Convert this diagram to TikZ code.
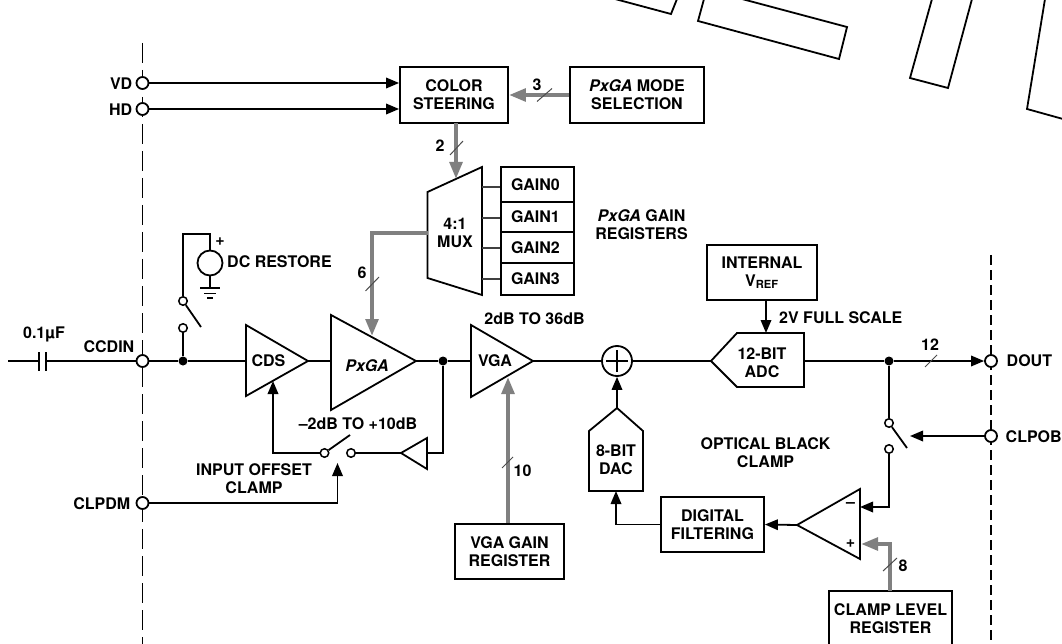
\documentclass[tikz,border=0pt]{standalone}
\usepackage{fontspec}
\setmainfont{TeX Gyre Heros}
\usetikzlibrary{arrows.meta,calc}
\definecolor{busgray}{gray}{0.5}
\tikzset{
  wire/.style={draw=black,line width=1.8pt,line join=miter},
  sig/.style={wire,-{Triangle[length=13pt,width=10.5pt]}},
  bus/.style={draw=busgray,line width=4pt},
  busarrow/.style={draw=busgray,line width=4pt,-{Triangle[length=17pt,width=12.5pt,fill=busgray]}},
  slash/.style={draw=black!70,line width=1pt},
  block/.style={draw=black,line width=1.8pt,fill=white},
  box/.style={draw=black,line width=1.8pt,fill=white,inner sep=0pt,align=center,font=\lab},
  lab/.style={inner sep=0pt,align=center,font=\lab},
  pin/.style={circle,draw=black,line width=1.8pt,fill=white,minimum size=12pt,inner sep=0pt},
  sw/.style={circle,draw=black,line width=1.5pt,fill=white,minimum size=8.5pt,inner sep=0pt},
  junction/.style={circle,fill=black,minimum size=9pt,inner sep=0pt},
  dashdiv/.style={draw=black,line width=1.7pt,dash pattern=on 20pt off 7pt},
  dashdivr/.style={draw=black,line width=1.3pt,dash pattern=on 10pt off 5pt},
  extra/.style={draw=black,line width=1.8pt}
}
\newcommand{\lab}{\fontsize{16pt}{18pt}\selectfont\bfseries}
\begin{document}
\begin{tikzpicture}[x=1pt,y=-1pt]
\useasboundingbox (0,0) rectangle (1062,644);
% cut-off outlines at the top
\draw[extra] (615,-1) -- (671,14) -- (677,-1);
\draw[extra] (704,-1) -- (698,21) -- (839,59) -- (847,27) -- (742,-1);
\draw[extra] (932,-1) -- (910,78) -- (948,88) -- (972,-1);
\draw[extra] (1045,-1) -- (1027,109) -- (1063,119);
% dashed dividers
\coordinate (dl0) at (142.5,43); \coordinate (dl1) at (142.5,644);
\coordinate (dr0) at (991,255); \coordinate (dr1) at (991,644);
\draw[dashdiv] (dl0) -- (dl1);
\draw[dashdivr] (dr0) -- (dr1);
% pins
\node[pin] (vd) at (142.5,83) {};
\node[pin] (hd) at (142.5,109) {};
\node[pin] (ccdin) at (142.5,361) {};
\node[pin] (clpdm) at (142.5,503) {};
\node[pin] (dout) at (991,361) {};
\node[pin] (clpob) at (991,436) {};
\node[lab,anchor=east] (lvd) at (132.5,84) {VD};
\node[lab,anchor=east] (lhd) at (132.5,110) {HD};
\node[lab,anchor=east] (lccd) at (134.5,346.5) {CCDIN};
\node[lab,anchor=east] (lclp) at (130.5,503.5) {CLPDM};
\node[lab,anchor=west] (ldout) at (1006.5,361) {DOUT};
\node[lab,anchor=west] (lclpob) at (1005.5,436.5) {CLPOB};
% boxes
\node[box,minimum width=108pt,minimum height=56pt] (color) at (454,95) {COLOR\\STEERING};
\node[box,minimum width=133.5pt,minimum height=56pt] (mode) at (637,95) {\textit{PxGA} MODE\\SELECTION};
\node[box,minimum width=73.5pt,minimum height=34.7pt] (g0) at (537.5,184.4) {\raisebox{-4pt}{GAIN0\kern4pt}};
\node[box,minimum width=73.5pt,minimum height=30.3pt] (g1) at (537.5,217) {\raisebox{-1.5pt}{GAIN1\kern4pt}};
\node[box,minimum width=73.5pt,minimum height=30.7pt] (g2) at (537.5,247.4) {GAIN2\kern4pt};
\node[box,minimum width=73.5pt,minimum height=32.3pt] (g3) at (537.5,278.9) {GAIN3\kern4pt};
\node[lab] (lgain) at (641.5,225) {\textit{PxGA} GAIN\\REGISTERS};
\node[box,minimum width=110pt,minimum height=55.5pt] (vref) at (762,272.5) {INTERNAL\\V\textsubscript{REF}};
\node[box,minimum width=109pt,minimum height=55.5pt] (vgareg) at (509.5,551.5) {VGA GAIN\\REGISTER};
\node[box,minimum width=103pt,minimum height=55.5pt] (filter) at (712.5,524.5) {DIGITAL\\FILTERING};
\node[box,minimum width=123pt,minimum height=56pt] (clampreg) at (890.5,619) {CLAMP LEVEL\\REGISTER};
% mux
\coordinate (mA) at (427.5,192); \coordinate (mB) at (482,167); \coordinate (mC) at (482,295); \coordinate (mD) at (427.5,278);
\draw[block] (mA) -- (mB) -- (mC) -- (mD) -- cycle;
\node[lab] (mux) at (455,233) {4:1\\MUX};
\foreach \g/\yy in {g0/187,g1/218,g2/248,g3/279}{
  \coordinate (m\g) at (482,\yy);
  \draw[draw=black!75,line width=1.6pt] (m\g) -- (m\g -| \g.west);
}
% triangles
\draw[block] (246,325) coordinate (cdsA) -- (246,396) -- (308,361) coordinate (cdsO) -- cycle;
\coordinate (cdsI) at (246,361);
\node[lab] (cds) at (268.5,361) {CDS};
\draw[block] (331,315) -- (331,410) -- (416,361) coordinate (pxO) -- cycle;
\coordinate (pxI) at (331,361);
\node[lab] (pxga) at (367,366) {\textit{PxGA}};
\draw[block] (471,325) -- (471,397) -- (533,361) coordinate (vgaO) -- cycle;
\coordinate (vgaI) at (471,361);
\node[lab] (vga) at (495,361) {VGA};
% sum
\node[circle,draw=black,line width=1.8pt,minimum size=30pt,inner sep=0pt] (sum) at (617,361) {};
\draw[wire,line width=1.5pt] ($(sum.west)+(5,0)$) -- ($(sum.east)+(-5,0)$);
\draw[wire,line width=1.5pt] ($(sum.north)+(0,5)$) -- ($(sum.south)+(0,-5)$);
% adc
\draw[block] (711,361) coordinate (adcI) -- (737,333) -- (804,333) -- (804,387) -- (737,387) -- cycle;
\coordinate (adcO) at (804,361);
\coordinate (adcT) at (766,333);
\node[lab] (adc) at (762,362.5) {12-BIT\\ADC};
% dac
\draw[block] (617,408) coordinate (dacO) -- (643,431) -- (643,491) -- (589,491) -- (589,431) -- cycle;
\coordinate (dacI) at (616,491);
\node[lab] (dac) at (616,459.5) {8-BIT\\DAC};
% comparator
\draw[block] (860,489) -- (860,559) -- (797,525) coordinate (cmpO) -- cycle;
\coordinate (cmpM) at (860,507); \coordinate (cmpP) at (860,544);
\node[lab] (cmpminus) at (850.5,505) {–};
\node[lab] (cmpplus) at (850.5,544) {+};
% main wires
\coordinate (inL) at (8,361);
\node[junction] (j1) at (183,361) {};
\node[junction] (j2) at (443,361) {};
\node[junction] (j3) at (889,361) {};
\coordinate (capL) at (39,361); \coordinate (capR) at (46,361);
\draw[wire] (inL) -- (capL);
\draw[wire] (capL |- 0,352) -- (capL |- 0,371);
\draw[wire] (capR |- 0,352) -- (capR |- 0,371);
\draw[wire] (capR) -- (ccdin);
\draw[wire] (ccdin) -- (j1);
\draw[wire] (j1) -- (cdsI);
\draw[wire] (cdsO) -- (pxI);
\draw[wire] (pxO) -- (j2);
\draw[wire] (j2) -- (vgaI);
\draw[wire] (vgaO) -- (sum);
\draw[wire] (sum) -- (adcI);
\draw[wire] (adcO) -- (j3);
\draw[sig] (j3) -- (dout);
\draw[sig] (vd) -- (vd -| color.west);
\draw[sig] (hd) -- (hd -| color.west);
\node[lab] (l01) at (44,334.5) {0.1µF};
% DC restore
\node[sw] (s1a) at (183,301) {};
\node[sw] (s1b) at (183,328) {};
\draw[wire] (j1) -- (s1b);
\coordinate (s1t) at (201,327);
\draw[wire] (s1a) -- (s1t);
\node[circle,draw=black,line width=1.8pt,minimum size=25pt,inner sep=0pt] (src) at (210,263) {};
\coordinate (gnd) at (210,288);
\draw[wire] (s1a) -- (183,234) -- (210,234) -- (src);
\draw[wire] (src) -- (gnd);
\draw[wire] ($(gnd)+(-10,0)$) -- ($(gnd)+(10,0)$);
\draw[wire] ($(gnd)+(-6,5.5)$) -- ($(gnd)+(6,5.5)$);
\draw[wire] ($(gnd)+(-3,10)$) -- ($(gnd)+(3,10)$);
\node[lab] (lplus) at (220,242) {+};
\node[lab,anchor=west] (ldc) at (227,262) {DC RESTORE};
% offset clamp
\node[sw] (s2a) at (324.5,453) {};
\node[sw] (s2b) at (351,453) {};
\coordinate (s2t) at (350,435);
\draw[wire] (s2a) -- (s2t);
\coordinate (cdsC) at (273,381);
\draw[sig] (s2a) -- (cdsC |- s2a) -- (cdsC);
\draw[block] (401,453) coordinate (bufO) -- (427,438) -- (427,469) -- cycle;
\coordinate (bufI) at (427,453);
\draw[wire] (s2b) -- (bufO);
\draw[wire] (bufI) -- (j2 |- bufI) -- (j2);
\coordinate (s2c) at (337.5,463);
\draw[sig] (clpdm) -- (s2c |- clpdm) -- (s2c);
\node[lab] (l2db) at (358,423.5) {–2dB TO +10dB};
\node[lab] (lioc) at (254,478.5) {INPUT OFFSET\\CLAMP};
\node[lab] (l36) at (534.5,318.5) {2dB TO 36dB};
% buses
\coordinate (colorB) at (456,123); \coordinate (muxT) at (456,179);
\draw[busarrow] (mode.west) -- (color.east);
\draw[busarrow] (colorB) -- (muxT);
\coordinate (muxL) at (427.5,233);
\coordinate (pxT) at (372,336);
\draw[busarrow] (muxL) -- (pxT |- muxL) -- (pxT);
\coordinate (vgaC) at (508,377);
\draw[busarrow] (vgaC |- vgareg.north) -- (vgaC);
\coordinate (clampT) at (890,591);
\coordinate (cmpPt) at (861,544);
\draw[busarrow] (clampT) -- (clampT |- cmpPt) -- (cmpPt);
\draw[slash] (537,101.5) -- (552,88.5);
\draw[slash] (450,155) -- (463,141);
\draw[slash] (365.5,291) -- (379,277);
\draw[slash] (502,468) -- (513,457);
\draw[slash] (883,571) -- (897,558);
\draw[slash] (925,367) -- (937,355);
\node[lab] (n3) at (537,85) {3};
\node[lab] (n2) at (440,146) {2};
\node[lab] (n6) at (362,272.5) {6};
\node[lab] (n10) at (522.5,470.5) {10};
\node[lab] (n8) at (903,566) {8};
\node[lab] (n12) at (930,345) {12};
% other signal wires
\draw[sig] (vref.south -| adcT) -- (adcT);
\node[lab,anchor=west] (l2v) at (779,317.5) {2V FULL SCALE};
\draw[sig] (dacO) -- (sum);
\draw[sig] (filter.west) -- (dacI |- filter.west) -- (dacI);
\draw[sig] (cmpO) -- (filter.east);
% optical black clamp
\node[sw] (s3a) at (889,423) {};
\node[sw] (s3b) at (889,449) {};
\draw[wire] (j3) -- (s3a);
\coordinate (s3t) at (907,448);
\draw[wire] (s3a) -- (s3t);
\coordinate (s3c) at (910,436);
\draw[sig] (clpob) -- (s3c);
\draw[sig] (s3b) -- (s3b |- cmpM) -- (cmpM);
\node[lab] (lobc) at (765.5,453) {OPTICAL BLACK\\CLAMP};
\end{tikzpicture}
\end{document}
